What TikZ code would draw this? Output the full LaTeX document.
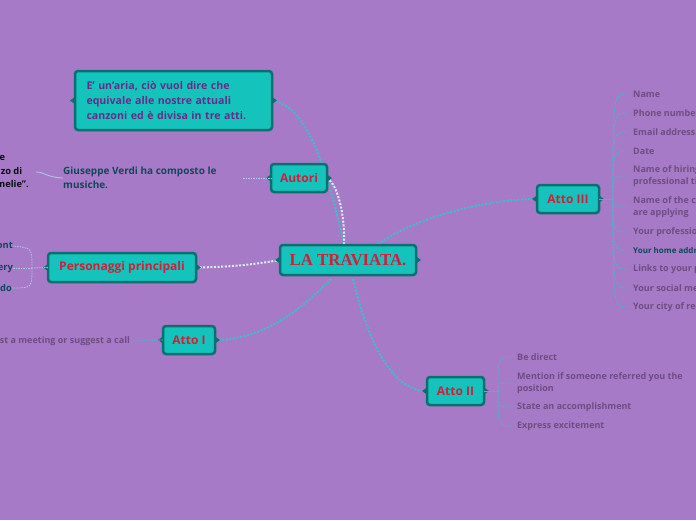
\documentclass[tikz,border=0pt]{standalone}
\usepackage{fontspec}
\setmainfont{Open Sans}
\newfontfamily\serifbold{Liberation Serif}
\usetikzlibrary{backgrounds}
\definecolor{bg}{RGB}{167,122,200}
\definecolor{tealf}{RGB}{20,196,188}
\definecolor{bord}{RGB}{12,110,110}
\definecolor{redt}{RGB}{210,30,60}
\definecolor{leaft}{RGB}{108,78,128}
\definecolor{darkt}{RGB}{14,72,88}
\definecolor{aquat}{RGB}{106,42,140}
\definecolor{lnteal}{RGB}{60,192,200}
\definecolor{lnwhite}{RGB}{215,238,250}
\definecolor{lnpale}{RGB}{170,200,225}
\tikzset{
  topic/.style={draw=bord, line width=2.5pt, fill=tealf, rounded corners=3pt,
    text=redt, font=\bfseries\fontsize{12}{14}\selectfont, inner sep=0pt, outer sep=0pt},
  leaf/.style={anchor=west, inner sep=0pt, text=leaft, align=left,
    font=\bfseries\fontsize{9}{12}\selectfont},
  dotteal/.style={draw=lnteal, line width=2pt, dash pattern=on 2pt off 1.6pt},
  dotwhite/.style={draw=lnwhite, line width=2pt, dash pattern=on 2pt off 1.6pt},
  twig/.style={draw=lnteal!80!bg, line width=0.8pt, dash pattern=on 1.5pt off 1pt},
  paletwig/.style={draw=lnpale, line width=0.8pt, dash pattern=on 1.5pt off 1pt},
}
\newcommand{\notches}[1]{%
  \fill[bord] ([yshift=3.5pt]#1.west) -- ([xshift=-5pt]#1.west) -- ([yshift=-3.5pt]#1.west) -- cycle;
  \fill[bord] ([yshift=3.5pt]#1.east) -- ([xshift=5pt]#1.east) -- ([yshift=-3.5pt]#1.east) -- cycle;}
\begin{document}
\begin{tikzpicture}[x=1pt,y=-1pt]
\useasboundingbox (0,0) rectangle (696,520);

\coordinate (ctop) at (344,244);
\coordinate (ctopr) at (378,244);
\coordinate (cbotl) at (331,279);
\coordinate (cbotr) at (353,279);

% main topic nodes
\node[topic, minimum width=136pt, minimum height=30pt, font=\serifbold\bfseries\fontsize{16.8}{19}\selectfont] (c) at (348,260) {LA TRAVIATA.};
\node[topic, minimum width=56pt, minimum height=28pt] (aut) at (299,178) {Autori};
\node[topic, minimum width=197pt, minimum height=59pt, text=aquat, align=left, text width=174pt,
  font=\bfseries\fontsize{10.6}{15}\selectfont] (aria) at (173.5,100.5)
  {E' un'aria, ciò vuol dire che\\equivale alle nostre attuali\\canzoni ed è divisa in tre atti.};
\node[topic, minimum width=148pt, minimum height=29pt] (pers) at (122,267.5) {Personaggi principali};
\node[topic, minimum width=52pt, minimum height=28pt] (a1) at (189,340) {Atto I};
\node[topic, minimum width=62pt, minimum height=28pt] (a3) at (568,199) {Atto III};
\node[topic, minimum width=57pt, minimum height=28pt] (a2) at (455.5,391) {Atto II};
\notches{c}\notches{aut}\notches{aria}\notches{pers}\notches{a1}\notches{a3}\notches{a2}

\begin{pgfonlayer}{background}
\fill[bg] (0,0) rectangle (696,520);
\draw[dotteal] (aria.east) .. controls (305,105) and (325,160) .. (ctop);
\draw[dotwhite] (aut.east) .. controls (338,185) and (345,215) .. (ctop);
\draw[dotwhite] (pers.east) .. controls (230,267) and (250,265) .. (c.west);
\draw[dotteal] (a1.east) .. controls (270,340) and (310,300) .. (cbotl);
\draw[dotteal] (cbotr) .. controls (370,350) and (395,391) .. (a2.west);
\draw[dotteal] (ctopr) .. controls (420,215) and (490,199) .. (a3.west);
\end{pgfonlayer}

% Autori children
\node[leaf, text=darkt, font=\bfseries\fontsize{10}{14}\selectfont] (verdi) at (63,178)
  {Giuseppe Verdi ha composto le\\musiche.};
\coordinate (vj) at (243,178);
\draw[paletwig] (vj) -- (aut.west);
\node[anchor=west, inner sep=0pt, text=black!85!darkt,
  font=\bfseries\fontsize{9.3}{13.5}\selectfont] (dumas) at (0,172)
  {\vbox{\baselineskip=13.5pt
   \hbox to 5pt{\hss La trama è tratta dal celebre}
   \hbox to 22pt{\hss romanzo di}
   \hbox to 28.5pt{\hss "La signora delle camelie".}}};
\draw[draw=lnpale, line width=0.9pt] (36,172) .. controls (45,172) and (45,177) .. (verdi.west);

% Personaggi children
\node[anchor=east, inner sep=0pt, text=darkt, font=\bfseries\fontsize{9.3}{13}\selectfont] (p1) at (13,246) {Giorgio Germont};
\node[anchor=east, inner sep=0pt, text=darkt, font=\bfseries\fontsize{9.3}{13}\selectfont] (p2) at (13,268) {Violetta Valery};
\node[anchor=east, inner sep=0pt, text=darkt, font=\bfseries\fontsize{9.3}{13}\selectfont] (p3) at (12,288) {Alfredo};
\coordinate (pj) at (32,268);
\draw[paletwig] (pers.west) -- (pj);
\draw[paletwig] (pj) .. controls (32,248) .. (p1.east);
\draw[paletwig] (pj) -- (p2.east);
\draw[paletwig] (pj) .. controls (32,288) .. (p3.east);

% Atto I child
\node[anchor=east, inner sep=0pt, text=leaft, font=\bfseries\fontsize{9}{12}\selectfont] (a1c) at (130,341) {Request a meeting or suggest a call};
\draw[twig] (a1c.east) ++(4,0) -- (a1.west);

% Atto III children
\coordinate (j3) at (613,199);
\draw[twig, dash pattern={}] (a3.east) -- (j3);
\foreach \t/\y in {Name/94, Phone number/113, Email address/132, Date/151,
   {Name of hiring manager and their\\professional title}/176,
   {Name of the company to which you\\are applying}/207,
   Your professional title/232,
   Links to your profiles/269, Your social media/288, Your city of residence/307}{
  \node[leaf] (l3) at (633,\y) {\t};
  \draw[twig] (j3) .. controls (613,\y) .. ([xshift=-5pt]l3.west);
}
\node[leaf, text=darkt, font=\bfseries\fontsize{8}{12}\selectfont] (home) at (633,250) {Your home address};
\draw[twig] (j3) .. controls (613,250) .. ([xshift=-5pt]home.west);

% Atto II children
\coordinate (j2) at (498,391);
\draw[twig, dash pattern={}] (a2.east) -- (j2);
\foreach \t/\y in {Be direct/357, {Mention if someone referred you the\\position}/383,
   State an accomplishment/407, Express excitement/426}{
  \node[leaf] (l2) at (517,\y) {\t};
  \draw[twig] (j2) .. controls (498,\y) .. ([xshift=-4pt]l2.west);
}
\end{tikzpicture}
\end{document}
